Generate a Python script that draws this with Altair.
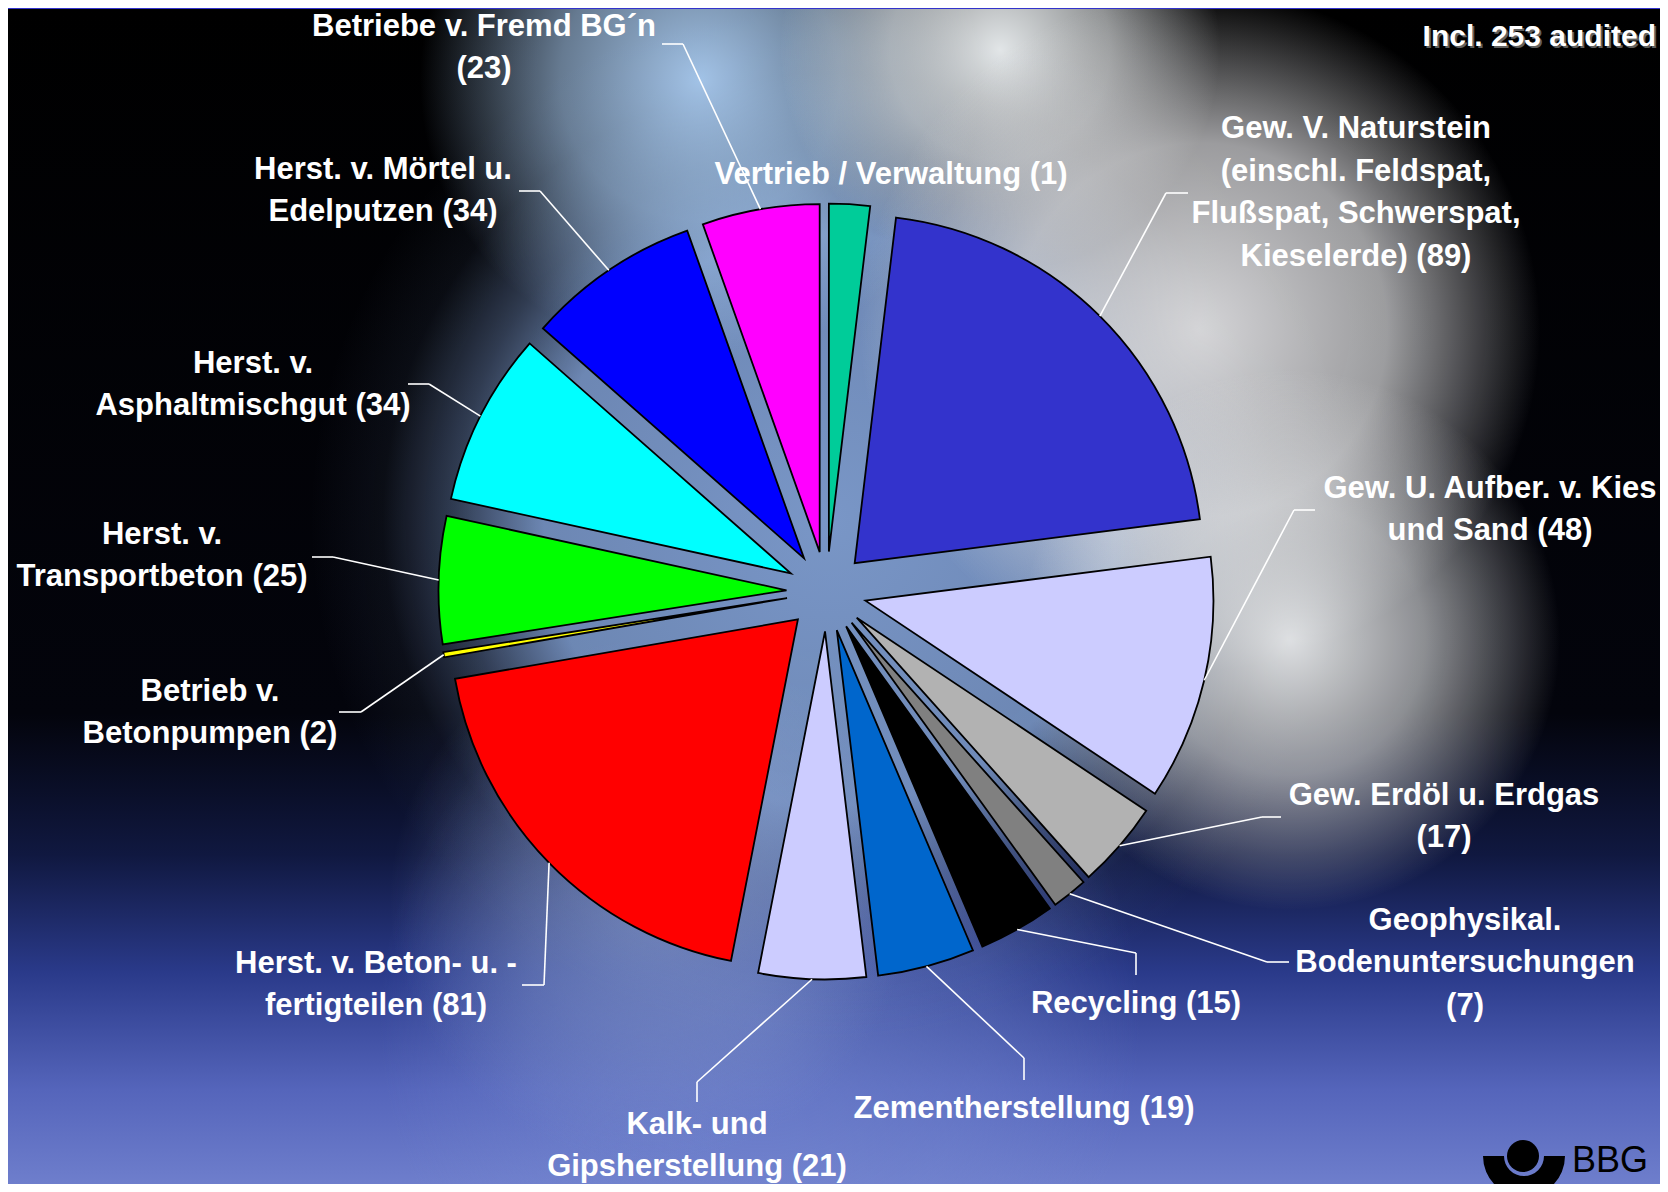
import altair as alt
import pandas as pd

# ---------------- data ----------------
names = ["Vertrieb / Verwaltung", "Gew. V. Naturstein", "Gew. U. Aufber. v. Kies und Sand",
         "Gew. Erdöl u. Erdgas", "Geophysikal. Bodenuntersuchungen", "Recycling",
         "Zementherstellung", "Kalk- und Gipsherstellung", "Herst. v. Beton- u. -fertigteilen",
         "Betrieb v. Betonpumpen", "Herst. v. Transportbeton", "Herst. v. Asphaltmischgut",
         "Herst. v. Mörtel u. Edelputzen", "Betriebe v. Fremd BG´n"]
# slice sizes as drawn (clockwise from 12 o'clock)
values = [8, 89, 48, 17, 7, 15, 19, 21, 81, 1, 25, 34, 34, 23]
labels = ["Vertrieb / Verwaltung (1)",
          "Gew. V. Naturstein\n(einschl. Feldspat,\nFlußspat, Schwerspat,\nKieselerde) (89)",
          "Gew. U. Aufber. v. Kies\nund Sand (48)",
          "Gew. Erdöl u. Erdgas\n(17)",
          "Geophysikal.\nBodenuntersuchungen\n(7)",
          "Recycling (15)",
          "Zementherstellung (19)",
          "Kalk- und\nGipsherstellung (21)",
          "Herst. v. Beton- u. -\nfertigteilen (81)",
          "Betrieb v.\nBetonpumpen (2)",
          "Herst. v.\nTransportbeton (25)",
          "Herst. v.\nAsphaltmischgut (34)",
          "Herst. v. Mörtel u.\nEdelputzen (34)",
          "Betriebe v. Fremd BG´n\n(23)"]
colors = ["#00cc99", "#3333cc", "#ccccff", "#b2b2b2", "#808080", "#000000", "#0066cc",
          "#ccccff", "#ff0000", "#ffff00", "#00ff00", "#00ffff", "#0000ff", "#ff00ff"]
note_text = "Incl. 253 audited"
logo_text = "BBG"

# ---------------- layout (page pixels) ----------------
M = 8
W, H = 1652, 1176
LH = 42.5
# centre of each label block
label_pos = [(891, 175), (1356, 193), (1490, 510), (1444, 817), (1465, 963), (1136, 1004),
             (1024, 1109), (697, 1146), (376, 985), (210, 713), (162, 556), (253, 385),
             (383, 191), (484, 48)]
elbow_pos = [None, (1166, 193), (1294, 510), (1262, 817), (1267, 962), (1136, 953),
             (1024, 1058), (697, 1082), (544, 985), (361, 712), (333, 557), (429, 384),
             (540, 191), (683, 44)]
stub_pos = [None, (1188, 193), (1315, 510), (1281, 817), (1289, 962), (1136, 975),
            (1024, 1080), (697, 1102), (522, 985), (339, 712), (312, 557), (408, 384),
            (519, 191), (662, 44)]
CX, CY = 826.5 - M, 591.5 - M
R, E = 348, 40

nlines = [t.count("\n") + 1 for t in labels]
df = pd.DataFrame({
    "idx": list(range(len(names))),
    "name": names,
    "value": values,
    "label": labels,
    "lx": [p[0] - M for p in label_pos],
    # first text line sits at the given y, so shift up by half the block
    "ly": [p[1] - M - (n - 1) * LH / 2 for p, n in zip(label_pos, nlines)],
    "ex": [p[0] - M if p else None for p in elbow_pos],
    "ey": [p[1] - M if p else None for p in elbow_pos],
    "sx": [p[0] - M if p else None for p in stub_pos],
    "sy": [p[1] - M if p else None for p in stub_pos],
})
TOTAL = sum(values)

NOAX = dict(scale=None, axis=None, stack=None)

base = (alt.Chart(df)
        .transform_joinaggregate(total="sum(value)")
        .transform_window(cum="sum(value)", sort=[alt.SortField("idx")], frame=[None, 0])
        .transform_calculate(c0="datum.cum - datum.value")
        .transform_calculate(mid="(datum.cum - datum.value/2) / datum.total * 2 * PI")
        .transform_calculate(px=f"{CX} + {E}*sin(datum.mid)")
        .transform_calculate(py=f"{CY} - {E}*cos(datum.mid)")
        .transform_calculate(ox=f"{CX} + {E + R}*sin(datum.mid)")
        .transform_calculate(oy=f"{CY} - {E + R}*cos(datum.mid)"))

pie = base.mark_arc(outerRadius=R, stroke="black", strokeWidth=1.8).encode(
    theta=alt.Theta("c0:Q", stack=None, scale=alt.Scale(domain=[0, TOTAL], nice=False)),
    theta2="cum:Q",
    x=alt.X("px:Q", **NOAX),
    y=alt.Y("py:Q", **NOAX),
    color=alt.Color("name:N", scale=alt.Scale(domain=names, range=colors), legend=None),
)

lead1 = base.transform_filter("isValid(datum.ex)").mark_rule(color="white", strokeWidth=1.6).encode(
    x=alt.X("ox:Q", **NOAX), y=alt.Y("oy:Q", **NOAX), x2="ex:Q", y2="ey:Q")
lead2 = base.transform_filter("isValid(datum.ex)").mark_rule(color="white", strokeWidth=1.6).encode(
    x=alt.X("ex:Q", **NOAX), y=alt.Y("ey:Q", **NOAX), x2="sx:Q", y2="sy:Q")

text = alt.Chart(df).mark_text(font="Liberation Sans", fontWeight="bold", fontSize=31, color="white",
                               align="center", baseline="middle", lineBreak="\n", lineHeight=LH).encode(
    x=alt.X("lx:Q", **NOAX), y=alt.Y("ly:Q", **NOAX), text="label:N")

# ---------------- background ----------------
one = alt.Data(values=[{"a": 1}])


def lin_bg():
    g = alt.LinearGradient(gradient="linear", x1=0, x2=0, y1=0, y2=1, stops=[
        alt.GradientStop(offset=0, color="#000000"),
        alt.GradientStop(offset=0.6, color="#03040c"),
        alt.GradientStop(offset=0.72, color="#101840"),
        alt.GradientStop(offset=0.82, color="#2a3a8a"),
        alt.GradientStop(offset=0.92, color="#5565bb"),
        alt.GradientStop(offset=1, color="#6e7ecc")])
    return alt.Chart(one).mark_rect(fill=g, strokeWidth=0).encode(
        x=alt.value(0), x2=alt.value(W), y=alt.value(0), y2=alt.value(H))


def glow(cx, cy, r, rgb, stops):
    g = alt.RadialGradient(gradient="radial", x1=0.5, y1=0.5, r1=0, x2=0.5, y2=0.5, r2=0.5,
                           stops=[alt.GradientStop(offset=o, color=f"rgba({rgb[0]},{rgb[1]},{rgb[2]},{a})")
                                  for o, a in stops])
    return alt.Chart(one).mark_rect(fill=g, strokeWidth=0).encode(
        x=alt.value(cx - r - M), x2=alt.value(cx + r - M),
        y=alt.value(cy - r - M), y2=alt.value(cy + r - M))


bg = [lin_bg(),
      glow(760, 1020, 380, (120, 140, 210), [(0, 0.55), (0.6, 0.3), (1, 0)]),
      glow(830, 520, 520, (125, 155, 205), [(0, 0.97), (0.55, 0.87), (0.72, 0.38), (0.86, 0.07), (1, 0)]),
      glow(650, 900, 260, (140, 160, 205), [(0, 0.6), (0.5, 0.35), (1, 0)]),
      glow(700, 80, 280, (170, 204, 242), [(0, 0.95), (0.5, 0.6), (1, 0)]),
      glow(1000, 50, 220, (238, 242, 244), [(0, 0.95), (0.5, 0.6), (1, 0)]),
      glow(1200, 330, 340, (222, 222, 224), [(0, 0.95), (0.55, 0.7), (1, 0)]),
      glow(1290, 640, 270, (232, 234, 236), [(0, 0.95), (0.5, 0.6), (1, 0)]),
      alt.Chart(one).mark_rect(fill="#3333cc", strokeWidth=0).encode(
          x=alt.value(0), x2=alt.value(W), y=alt.value(0), y2=alt.value(1))]

# note / logo
note_sh = alt.Chart(one).mark_text(text=note_text, font="Liberation Sans", fontWeight="bold",
                                   fontSize=30, color="#606060", align="right", baseline="middle").encode(
    x=alt.value(W - 4 + 2), y=alt.value(37 - M + 2))
note = alt.Chart(one).mark_text(text=note_text, font="Liberation Sans", fontWeight="bold",
                                fontSize=30, color="white", align="right", baseline="middle").encode(
    x=alt.value(W - 4), y=alt.value(37 - M))
bowl = alt.Chart(one).mark_arc(theta=1.5708, theta2=4.7124, outerRadius=41, innerRadius=20, color="black").encode(
    x=alt.value(1524 - M), y=alt.value(1156 - M))
head = alt.Chart(one).mark_arc(theta=0, theta2=6.2832, outerRadius=16, color="black").encode(
    x=alt.value(1523 - M), y=alt.value(1156 - M))
logo_txt = alt.Chart(one).mark_text(text=logo_text, font="Liberation Sans", fontSize=36, color="black",
                                    align="left", baseline="alphabetic").encode(
    x=alt.value(1572 - M), y=alt.value(1172 - M))

chart = alt.layer(*bg, pie, text, lead1, lead2, note_sh, note, bowl, head, logo_txt).properties(
    width=W, height=H, padding=0, autosize=alt.AutoSizeParams(type="none"), background="#000000"
).configure_view(stroke=None)

chart.save("out.html", embed_options={"renderer": "svg", "actions": False})
